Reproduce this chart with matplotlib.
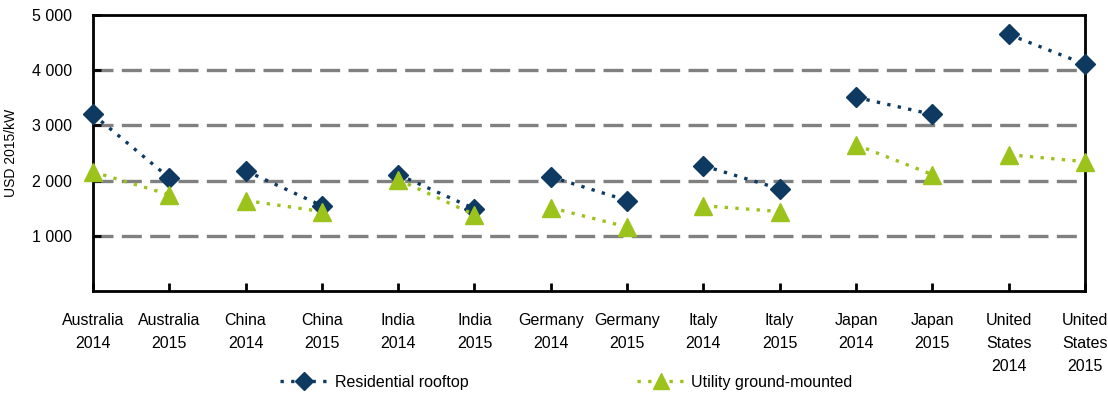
import matplotlib
matplotlib.use("Agg")
import matplotlib.pyplot as plt
from matplotlib.lines import Line2D

plt.rcParams['font.family'] = ['Liberation Sans', 'DejaVu Sans']

countries = ["Australia", "China", "India", "Germany", "Italy", "Japan", "United\nStates"]
years = ["2014", "2015"]
labels = [f"{c}\n{y}" for c in countries for y in years]

residential = [3200, 2050, 2180, 1545, 2110, 1490, 2070, 1640, 2270, 1850, 3510, 3200, 4650, 4110]
utility = [2160, 1745, 1640, 1440, 2020, 1380, 1510, 1160, 1545, 1440, 2650, 2110, 2470, 2345]

NAVY = "#0e3a62"
GREEN = "#9cc31b"
DOTS = (0, (1, 2.2))

fig = plt.figure(figsize=(11.08, 3.97), dpi=100)
ax = fig.add_axes([0.0839, 0.267, 0.8953, 0.695])

for yv in [1000, 2000, 3000, 4000]:
    ax.axhline(yv, color="#808080", lw=2.4, ls=(0, (6, 2.5)), zorder=1)

x = list(range(len(labels)))
for i in range(0, len(labels), 2):
    ax.plot(x[i:i + 2], residential[i:i + 2], ls=DOTS, lw=2.4, color=NAVY,
            marker="D", ms=10, clip_on=False, zorder=3)
    ax.plot(x[i:i + 2], utility[i:i + 2], ls=DOTS, lw=2.4, color=GREEN,
            marker="^", ms=13, clip_on=False, zorder=3)

ax.set_xlim(0, 13)
ax.set_ylim(0, 5000)
ax.set_yticks([1000, 2000, 3000, 4000, 5000])
ax.set_yticklabels(["1 000", "2 000", "3 000", "4 000", "5 000"])
ax.set_xticks(x)
ax.set_xticklabels(labels, linespacing=1.65)
ax.tick_params(axis="both", direction="in", width=2, length=6, labelsize=11.5, colors="black")
ax.tick_params(axis="x", pad=16)
ax.tick_params(axis="y", pad=15)
for s in ax.spines.values():
    s.set_linewidth(2)
ax.set_ylabel("USD 2015/kW", fontsize=10, labelpad=10)

h1 = Line2D([0], [0], color=NAVY, ls=DOTS, lw=2.4, marker="D", ms=9)
h2 = Line2D([0], [0], color=GREEN, ls=DOTS, lw=2.4, marker="^", ms=12)
leg1 = fig.legend([h1], ["Residential rooftop"], loc="center left",
                  bbox_to_anchor=(0.24, 0.037), frameon=False, fontsize=11.5,
                  handlelength=3, handletextpad=0.4)
fig.legend([h2], ["Utility ground-mounted"], loc="center left",
           bbox_to_anchor=(0.562, 0.037), frameon=False, fontsize=11.5,
           handlelength=3, handletextpad=0.4)

fig.savefig("out.png", dpi=100)
